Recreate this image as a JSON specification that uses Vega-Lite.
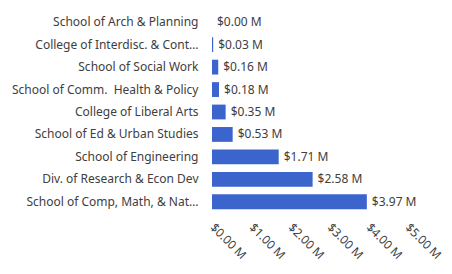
{
  "$schema": "https://vega.github.io/schema/vega-lite/v6.json",
  "width": 195,
  "height": 202,
  "autosize": {"type": "none"},
  "padding": {"left": 212, "top": 11, "right": 45, "bottom": 61},
  "background": "white",
  "config": {
    "view": {"stroke": null},
    "font": "Noto Sans",
    "axis": {"labelColor": "#404040", "labelFont": "Noto Sans", "labelFontSize": 12, "domain": false, "ticks": false, "grid": false}
  },
  "data": {
    "values": [
      {"unit": "School of Arch & Planning", "amount": 0.0, "label": "$0.00 M"},
      {"unit": "College of Interdisc. & Cont…", "amount": 0.03, "label": "$0.03 M"},
      {"unit": "School of Social Work", "amount": 0.16, "label": "$0.16 M"},
      {"unit": "School of Comm.\u00a0 Health & Policy", "amount": 0.18, "label": "$0.18 M"},
      {"unit": "College of Liberal Arts", "amount": 0.35, "label": "$0.35 M"},
      {"unit": "School of Ed & Urban Studies", "amount": 0.53, "label": "$0.53 M"},
      {"unit": "School of Engineering", "amount": 1.71, "label": "$1.71 M"},
      {"unit": "Div. of Research & Econ Dev", "amount": 2.58, "label": "$2.58 M"},
      {"unit": "School of Comp, Math, & Nat…", "amount": 3.97, "label": "$3.97 M"}
    ]
  },
  "encoding": {
    "y": {
      "field": "unit", "type": "nominal", "sort": null, "title": null,
      "scale": {"paddingInner": 0.34, "paddingOuter": 0.17},
      "axis": {"labelPadding": 14, "labelLimit": 250}
    },
    "x": {
      "field": "amount", "type": "quantitative", "title": null,
      "scale": {"domain": [0, 5], "nice": false},
      "axis": {"values": [0, 1, 2, 3, 4, 5], "labelExpr": "'$' + format(datum.value, '.2f') + ' M'", "labelAngle": 45, "labelAlign": "left", "labelBaseline": "middle", "labelPadding": 12, "labelFlush": false, "labelOverlap": false}
    }
  },
  "layer": [
    {"mark": {"type": "bar", "color": "#3b64cc"}},
    {
      "mark": {"type": "text", "align": "left", "baseline": "middle", "dx": 5, "fontSize": 12, "color": "#404040", "font": "Noto Sans"},
      "encoding": {"text": {"field": "label", "type": "nominal"}}
    }
  ]
}
